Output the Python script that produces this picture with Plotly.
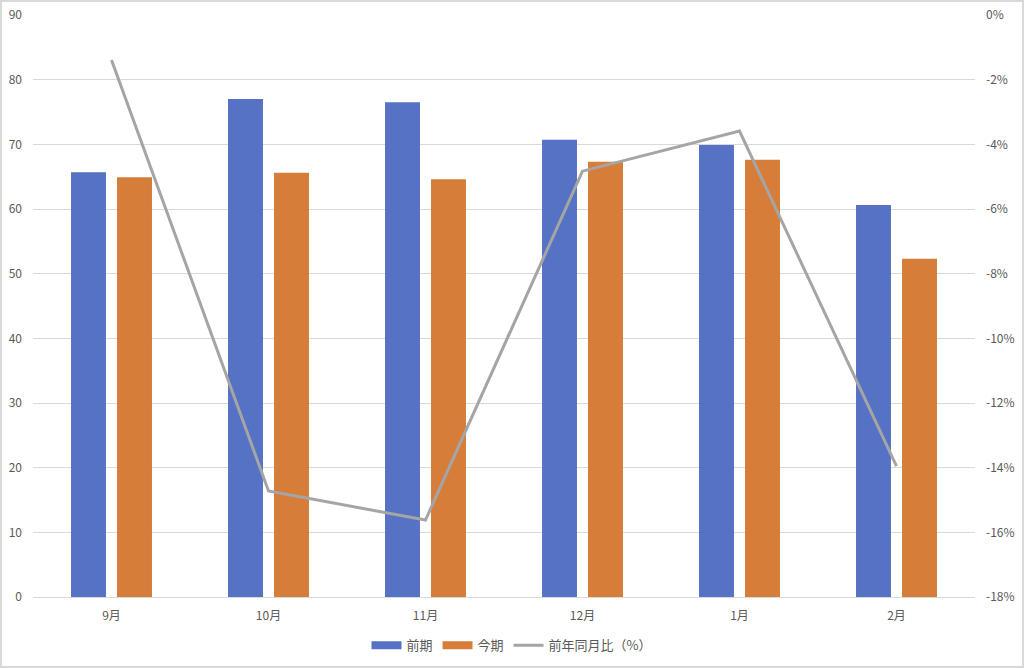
import plotly.graph_objects as go

months = ["9月", "10月", "11月", "12月", "1月", "2月"]
prev_period = [65.7, 77.0, 76.5, 70.7, 69.9, 60.6]
curr_period = [64.9, 65.6, 64.6, 67.3, 67.6, 52.3]
yoy_pct = [-1.39, -14.72, -15.62, -4.83, -3.59, -13.95]

left_ticks = list(range(0, 91, 10))
right_ticks = list(range(-18, 1, 2))
right_labels = [f"{v}%" for v in right_ticks]

font_family = "Noto Sans CJK JP, Noto Sans, sans-serif"
tick_color = "#595959"
c_prev, c_curr, c_line = "#5572C4", "#D67D3A", "#A5A5A5"

fig = go.Figure()
fig.add_trace(go.Bar(x=months, y=prev_period, name="前期", marker_color=c_prev,
                     marker_line_width=0, showlegend=False))
fig.add_trace(go.Bar(x=months, y=curr_period, name="今期", marker_color=c_curr,
                     marker_line_width=0, showlegend=False))
fig.add_trace(go.Scatter(x=months, y=yoy_pct, name="前年同月比（%）", mode="lines",
                         line=dict(color=c_line, width=3), yaxis="y2", showlegend=False))
# legend entries (wide swatches like the original)
for nm, col, w in [("前期", c_prev, 8), ("今期", c_curr, 8), ("前年同月比（%）", c_line, 3)]:
    fig.add_trace(go.Scatter(x=[None], y=[None], name=nm, mode="lines",
                             line=dict(color=col, width=w), showlegend=True))

fig.update_layout(
    width=1024, height=668,
    margin=dict(l=33, r=49, t=15, b=71, autoexpand=False),
    paper_bgcolor="white", plot_bgcolor="white",
    barmode="group", bargap=0.414, bargroupgap=0.24,
    font=dict(family=font_family, size=12, color=tick_color),
    showlegend=True,
    legend=dict(orientation="h", xref="container", yref="container",
                x=0.5, xanchor="center", y=0.034, yanchor="middle",
                font=dict(size=13, color=tick_color), traceorder="normal",
                bgcolor="rgba(0,0,0,0)"),
    xaxis=dict(showgrid=False, showline=True, linecolor="#D9D9D9", linewidth=1,
               ticks="", tickfont=dict(size=12, color=tick_color), ticklabelstandoff=8,
               automargin=False),
    yaxis=dict(range=[0, 90], tickvals=left_ticks, showgrid=True, gridcolor="#D9D9D9",
               gridwidth=1, zeroline=False, showline=False, ticks="",
               tickfont=dict(size=12, color=tick_color), ticklabelstandoff=10,
               automargin=False),
    yaxis2=dict(range=[-18, 0], tickvals=right_ticks, ticktext=right_labels,
                overlaying="y", side="right", showgrid=False, zeroline=False,
                showline=False, ticks="", tickfont=dict(size=12, color=tick_color),
                ticklabelstandoff=10, automargin=False),
    shapes=[dict(type="rect", xref="paper", yref="paper", x0=-32/942, x1=1+48/942,
                 y0=-70/582, y1=1+14/582, line=dict(color="#D9D9D9", width=2),
                 fillcolor="rgba(0,0,0,0)", layer="below")],
)

fig.write_html("out.html", config={"displayModeBar": False},
               post_script="document.body.style.margin='0';document.body.style.overflow='hidden';")
